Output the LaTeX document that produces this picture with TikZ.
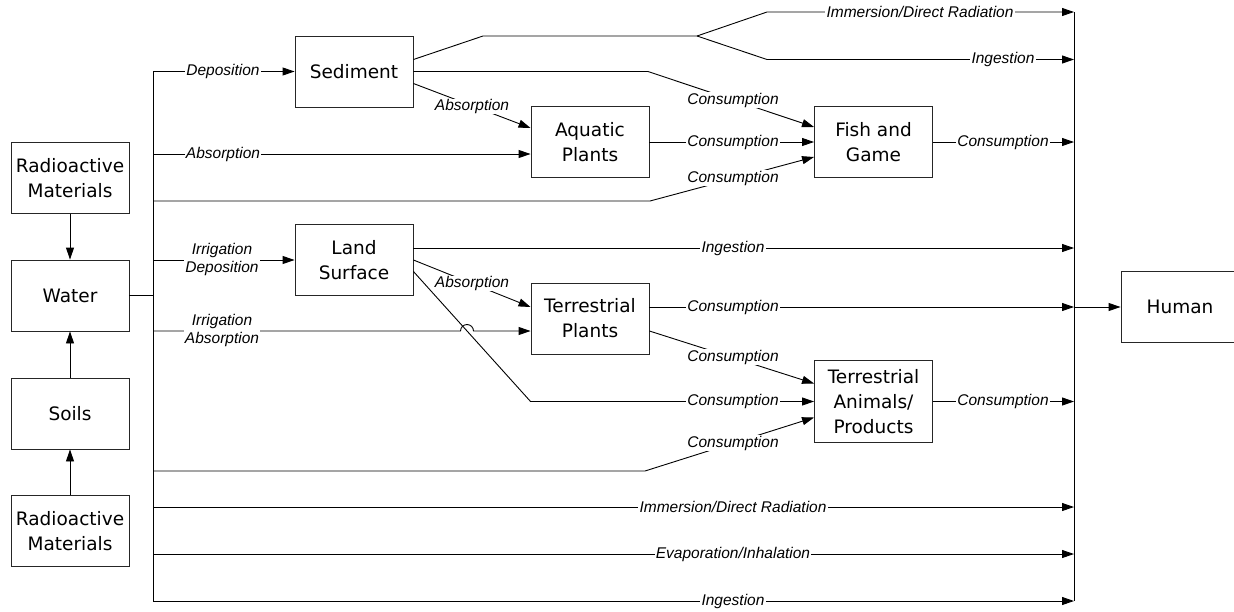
\documentclass[tikz,border=0pt]{standalone}
\usepackage{fontspec}
\setmainfont{DejaVu Sans}
\newfontfamily\lblfont{Liberation Sans}
\usetikzlibrary{arrows.meta}
\begin{document}
\begin{tikzpicture}[x=1pt,y=-1pt,
  box/.style={draw=black!85,line width=0.9pt,minimum width=118pt,minimum height=71pt,
    inner sep=0pt,align=center,font=\fontsize{18.5}{25}\selectfont},
  lbl/.style={fill=white,inner xsep=1.2pt,inner ysep=0.5pt,align=center,
    font=\lblfont\itshape\fontsize{15.5}{18}\selectfont},
  link/.style={line width=0.9pt},
  flow/.style={link,-{Triangle[length=12pt,width=8pt]}}]
 \useasboundingbox (0,0) rectangle (1234,611);

 % sources
 \node[box] (rmtop) at (70,178) {Radioactive\\Materials};
 \node[box] (water) at (70,295.5) {Water};
 \node[box] (soils) at (70,413.5) {Soils};
 \node[box] (rmbot) at (70,531) {Radioactive\\Materials};

 % pathways
 \node[box] (sediment) at (354,71.5) {Sediment};
 \node[box] (aquatic) at (590,142) {Aquatic\\Plants};
 \node[box] (fish) at (873.5,142) {Fish and\\Game};
 \node[box] (land) at (354,260) {Land\\Surface};
 \node[box] (tplants) at (590,318.5) {Terrestrial\\Plants};
 \node[box,minimum height=82pt] (tanimals) at (873.5,401.5) {Terrestrial\\Animals/\\Products};
 \node[box] (human) at (1180,307) {Human};

 % bus points
 \coordinate (wbus) at (153,295.5);
 \foreach \n/\y in {1/71.5,2/154,3/201,4/260,5/331,6/471,7/507,8/554,9/601}
   \coordinate (b\n) at (153,\y);
 \foreach \n/\y in {1/12,2/59.5,3/142,4/248,5/307,6/401.5,7/507,8/554,9/601}
   \coordinate (r\n) at (1074,\y);
 \coordinate (fork) at (697,36);

 \draw[flow] (rmtop) -- (water);
 \draw[flow] (soils) -- (water);
 \draw[flow] (rmbot) -- (soils);
 \draw[link] (water) -- (wbus);
 \draw[link] (b1) -- (b9);
 \draw[link] (r1) -- (r9);
 \draw[flow] (r5) -- (human);

 % water branches
 \draw[flow] (b1) -- (sediment);
 \draw[flow] (b2) -- (b2 -| aquatic.west);
 \draw[flow] (b3) -- (650,201) -- ([yshift=-15pt]fish.west);
 \draw[flow] (b4) -- (land);
 \draw[flow] (b5) -- (460.5,331) arc[start angle=180,end angle=0,radius=6.5pt]
   -- (b5 -| tplants.west);
 \draw[flow] (b6) -- (645,471) -- ([yshift=-16pt]tanimals.west);
 \draw[flow] (b7) -- (r7);
 \draw[flow] (b8) -- (r8);
 \draw[flow] (b9) -- (r9);

 % sediment
 \draw[link] ([yshift=12pt]sediment.east) -- (483,36) -- (fork);
 \draw[flow] (fork) -- (767,12) -- (r1);
 \draw[flow] (fork) -- (767,59.5) -- (r2);
 \draw[flow] (sediment.east) -- (648,71.5) -- ([yshift=15pt]fish.west);
 \draw[flow] ([yshift=-12pt]sediment.east) -- ([yshift=14pt]aquatic.west);
 \draw[flow] (aquatic) -- (fish);
 \draw[flow] (fish) -- (r3);

 % land
 \draw[flow] ([yshift=12pt]land.east) -- (r4);
 \draw[flow] (land.east) -- ([yshift=11.5pt]tplants.west);
 \draw[flow] ([yshift=-11.5pt]land.east) -- (tplants.west |- tanimals.west) -- (tanimals);
 \draw[flow] ([yshift=11.5pt]tplants.east) -- (r5);
 \draw[flow] ([yshift=-12.5pt]tplants.east) -- ([yshift=18pt]tanimals.west);
 \draw[flow] (tanimals) -- (r6);

 % labels
 \node[lbl] (ldep) at (223,71.5) {Deposition};
 \node[lbl] (labs) at (223,154) {Absorption};
 \node[lbl] (lirrdep) at (222,259.5) {Irrigation\\Deposition};
 \node[lbl] (lirrabs) at (222,330.5) {Irrigation\\Absorption};
 \node[lbl] (lsedabs) at (472,106.5) {Absorption};
 \node[lbl] (lsedimm) at (920,12) {Immersion/Direct Radiation};
 \node[lbl] (lseding) at (1003,59.5) {Ingestion};
 \node[lbl] (lsedcon) at (733,100) {Consumption};
 \node[lbl] (laqcon) at (733,142) {Consumption};
 \node[lbl] (lwfcon) at (733,178) {Consumption};
 \node[lbl] (lfishcon) at (1003,142) {Consumption};
 \node[lbl] (llanding) at (733,248) {Ingestion};
 \node[lbl] (llandabs) at (472,283.5) {Absorption};
 \node[lbl] (ltpcon) at (733,307) {Consumption};
 \node[lbl] (ltpacon) at (733,357) {Consumption};
 \node[lbl] (llandcon) at (733,401.5) {Consumption};
 \node[lbl] (lanicon) at (1003,401.5) {Consumption};
 \node[lbl] (lwacon) at (733,443) {Consumption};
 \node[lbl] (limm) at (733,507) {Immersion/Direct Radiation};
 \node[lbl] (levap) at (733,554) {Evaporation/Inhalation};
 \node[lbl] (ling) at (733,601) {Ingestion};
\end{tikzpicture}
\end{document}
